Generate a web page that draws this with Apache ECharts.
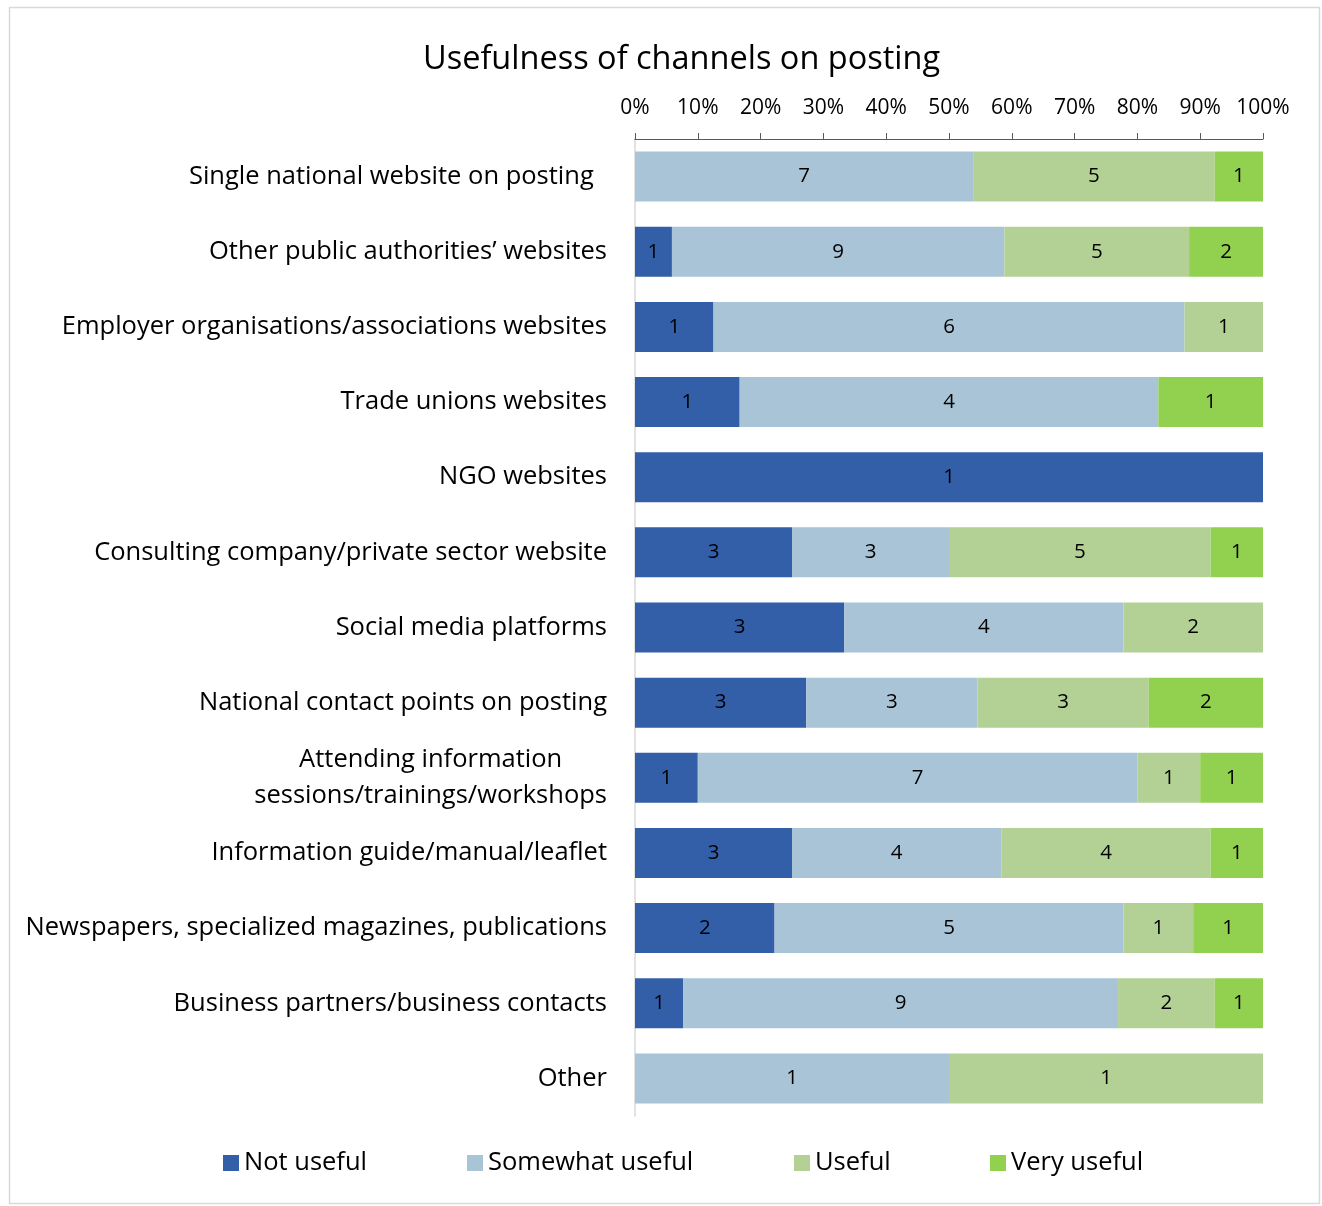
<!DOCTYPE html>
<html>
<head>
<meta charset="utf-8">
<script src="https://cdn.jsdelivr.net/npm/echarts@6/dist/echarts.min.js"></script>
<style>
html,body{margin:0;padding:0;background:#fff;}
#chart{width:1322px;height:1206px;}
</style>
</head>
<body>
<div id="chart"></div>
<script>
const categories = [
  "Single national website on posting",
  "Other public authorities\u2019 websites",
  "Employer organisations/associations websites",
  "Trade unions websites",
  "NGO websites",
  "Consulting company/private sector website",
  "Social media platforms",
  "National contact points on posting",
  "Attending information sessions/trainings/workshops",
  "Information guide/manual/leaflet",
  "Newspapers, specialized magazines, publications",
  "Business partners/business contacts",
  "Other"
];
const seriesNames = ["Not useful", "Somewhat useful", "Useful", "Very useful"];
const notUseful      = [0, 1, 1, 1, 1, 3, 3, 3, 1, 3, 2, 1, 0];
const somewhatUseful = [7, 9, 6, 4, 0, 3, 4, 3, 7, 4, 5, 9, 1];
const useful         = [5, 5, 1, 0, 0, 5, 2, 3, 1, 4, 1, 2, 1];
const veryUseful     = [1, 2, 0, 1, 0, 1, 0, 2, 1, 1, 1, 1, 0];
const xTicks = [0, 10, 20, 30, 40, 50, 60, 70, 80, 90, 100];

const counts = [notUseful, somewhatUseful, useful, veryUseful];
const colors = ["#335FA9", "#A9C4D7", "#B3D194", "#92D050"];
const totals = categories.map((c, i) => counts.reduce((s, arr) => s + arr[i], 0));
const FONT = "'Open Sans', sans-serif";

const series = counts.map((arr, si) => ({
  name: seriesNames[si],
  type: 'bar',
  stack: 'total',
  barWidth: 50,
  itemStyle: { color: colors[si] },
  label: {
    show: true,
    position: 'inside',
    color: '#000',
    fontSize: 20.5,
    fontFamily: FONT,
    formatter: p => (arr[p.dataIndex] ? String(arr[p.dataIndex]) : '')
  },
  data: arr.map((v, i) => v / totals[i] * 100)
}));

const legendLefts = [223, 467, 794, 990];
const legends = seriesNames.map((n, i) => ({
  data: [n],
  left: legendLefts[i],
  top: 1150,
  padding: 0,
  itemWidth: 16,
  itemHeight: 16,
  itemGap: 6,
  icon: 'rect',
  textStyle: { fontSize: 25.5, color: '#000', fontFamily: FONT }
}));

const chart = echarts.init(document.getElementById('chart'));
chart.setOption({
  animation: false,
  backgroundColor: '#fff',
  title: {
    text: 'Usefulness of channels on posting',
    left: 418,
    top: 38,
    textStyle: { fontSize: 32.5, fontWeight: 'normal', color: '#000', fontFamily: FONT }
  },
  graphic: [{
    type: 'rect',
    shape: { x: 9.5, y: 7.5, width: 1310, height: 1196 },
    style: { fill: 'none', stroke: '#D9D9D9', lineWidth: 1.5 },
    silent: true
  }],
  legend: legends,
  grid: { left: 635, right: 59, top: 139, bottom: 90, containLabel: false },
  xAxis: {
    type: 'value',
    position: 'top',
    min: 0,
    max: 100,
    interval: 10,
    axisLine: { show: true, lineStyle: { color: '#595959', width: 1.2 } },
    axisTick: { show: true, length: 6, lineStyle: { color: '#595959' } },
    splitLine: { show: false },
    axisLabel: {
      formatter: v => xTicks.includes(v) ? v + '%' : '',
      fontSize: 21,
      color: '#000',
      margin: 20,
      fontFamily: FONT
    }
  },
  yAxis: {
    type: 'category',
    inverse: true,
    data: categories,
    axisLine: { show: true, lineStyle: { color: '#D9D9D9', width: 1.5 } },
    axisTick: { show: false },
    axisLabel: {
      fontSize: 25.5,
      color: '#000',
      margin: 28,
      fontFamily: FONT,
      formatter: (v, i) => {
        if (i === 8) return '{c|Attending information}\n{c|sessions/trainings/workshops}';
        if (i === 0) return v + '  ';
        return v;
      },
      rich: {
        c: { align: 'center', fontSize: 25.5, color: '#000', fontFamily: FONT, lineHeight: 36 }
      }
    }
  },
  series: series
});
</script>
</body>
</html>
